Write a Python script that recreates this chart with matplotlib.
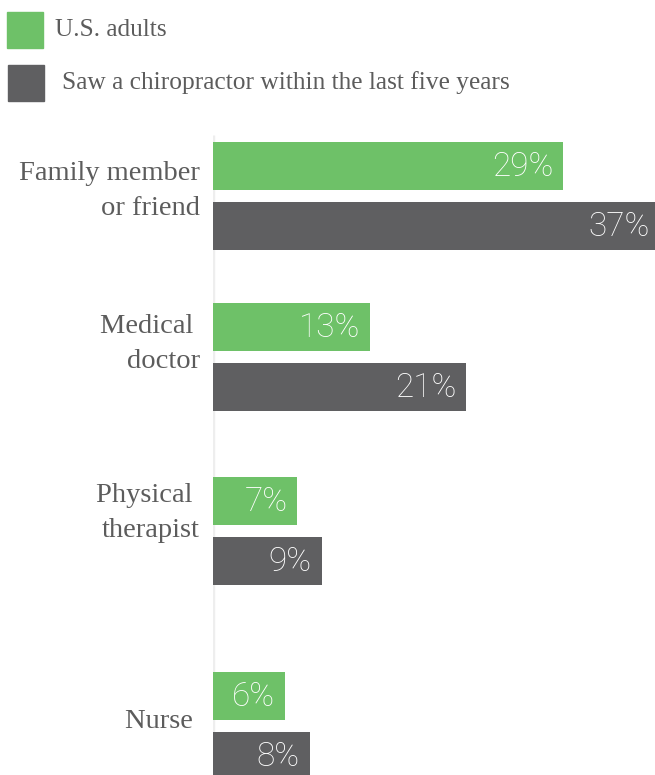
import matplotlib
matplotlib.use("Agg")
import matplotlib.pyplot as plt
from matplotlib.patches import Rectangle

# data
categories = ["Family member\nor friend", "Medical \ndoctor", "Physical \ntherapist", "Nurse "]
us_adults = [29, 13, 7, 6]
chiro_5yr = [37, 21, 9, 8]
series_names = ["U.S. adults", "Saw a chiropractor within the last five years"]

# layout (pixel units, top-down)
W, H = 655, 775
group_y = [195.5, 357, 531, 726]
label_y = [191, 344, 513, 722]
offset = 30
bar_h = 48
px_per_pct = 12.07

green = "#6ec168"
dark = "#5f5f61"
text_col = "#5c5c5c"
serif = ["Liberation Serif", "DejaVu Serif"]
sans = ["Roboto", "Lato", "DejaVu Sans"]

fig = plt.figure(figsize=(W / 100, H / 100), dpi=100)

# overlay axes in pixel coords for legend + labels
ov = fig.add_axes([0, 0, 1, 1])
ov.set_xlim(0, W)
ov.set_ylim(H, 0)
ov.axis("off")

# main bars axes
x0 = 213
ax = fig.add_axes([x0 / W, 0, (W - x0) / W, 1])
ax.set_xlim(0, (W - x0) / px_per_pct)
ax.set_ylim(H, 0)
ax.axis("off")

ax.plot([0, 0], [135, H], color="#eeeeee", lw=2.5, zorder=0, solid_capstyle="butt")

y_green = [g - offset for g in group_y]
y_dark = [g + offset for g in group_y]
ax.barh(y_green, us_adults, height=bar_h, color=green, zorder=2)
ax.barh(y_dark, chiro_5yr, height=bar_h, color=dark, zorder=2)

pad = 10 / px_per_pct
for vals, ys in [(us_adults, y_green), (chiro_5yr, y_dark)]:
    for v, y in zip(vals, ys):
        ax.text(v - pad, y + 1, f"{v}%", ha="right", va="center", color="white",
                fontsize=24, family=sans, fontweight="light", zorder=3)

# category labels
for lab, y in zip(categories, label_y):
    ov.text(200, y, lab, ha="right", va="center", color=text_col,
            fontsize=20.5, family=serif, linespacing=1.5)

# legend
ov.add_patch(Rectangle((7, 12), 36, 36, color=green))
ov.add_patch(Rectangle((8, 65), 36, 36, color=dark))
ov.text(55, 30, series_names[0], ha="left", va="center", color=text_col,
        fontsize=18.3, family=serif)
ov.text(62, 83, series_names[1], ha="left", va="center", color=text_col,
        fontsize=18.3, family=serif)

fig.savefig("out.png", dpi=100)
